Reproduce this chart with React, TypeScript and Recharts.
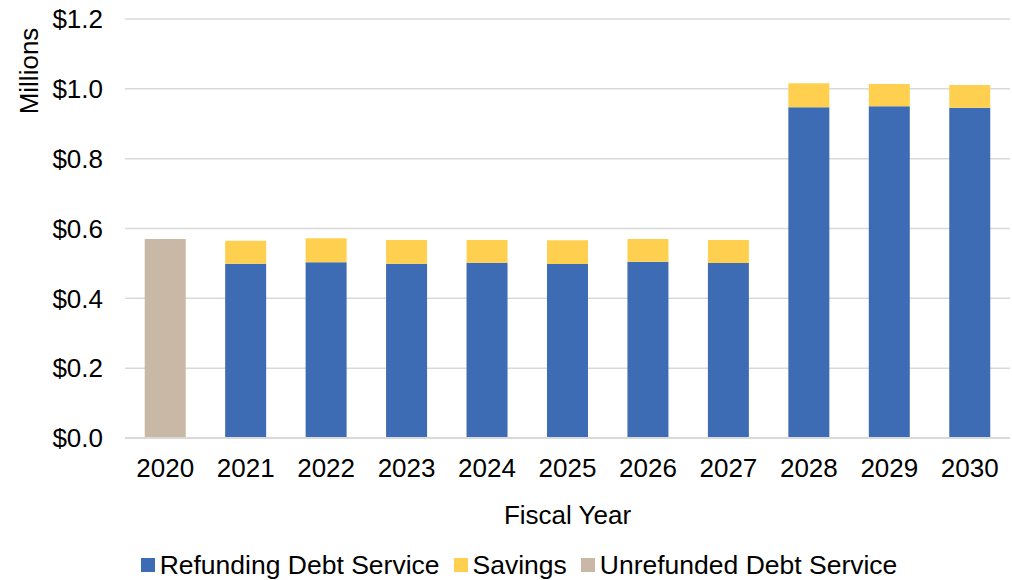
import { BarChart, Bar, XAxis, YAxis, CartesianGrid, Legend, Label } from 'recharts';

const years = ['2020', '2021', '2022', '2023', '2024', '2025', '2026', '2027', '2028', '2029', '2030'];
const refunding = [null, 0.499, 0.503, 0.499, 0.502, 0.498, 0.505, 0.501, 0.947, 0.95, 0.946];
const savings = [null, 0.066, 0.069, 0.068, 0.065, 0.068, 0.065, 0.066, 0.069, 0.064, 0.065];
const unrefunded = [0.57, null, null, null, null, null, null, null, null, null, null];
const yTicks = [0, 0.2, 0.4, 0.6, 0.8, 1.0, 1.2];

const FONT = '"Liberation Sans", Arial, sans-serif';
const FS = 26;

const data = years.map((year, i) => ({
  year,
  refunding: refunding[i],
  savings: savings[i],
  unrefunded: unrefunded[i],
}));

function LegendContent({ payload }: { payload?: any[] }) {
  if (!payload) return null;
  return (
    <div style={{ display: 'flex', justifyContent: 'center', alignItems: 'center', height: 38, paddingLeft: 28, fontFamily: FONT, fontSize: 26.5, color: '#000' }}>
      {payload.map((p, i) => (
        <div key={p.value} style={{ display: 'flex', alignItems: 'center', marginRight: i < payload.length - 1 ? 14 : 0 }}>
          <span style={{ display: 'inline-block', width: 14, height: 14, background: p.color, marginRight: 5 }} />
          <span>{p.value}</span>
        </div>
      ))}
    </div>
  );
}

function MillionsLabel({ viewBox }: { viewBox?: any }) {
  const x = viewBox.x + 29;
  const y = viewBox.y + 52;
  return (
    <text x={x} y={y} transform={`rotate(-90, ${x}, ${y})`} textAnchor="middle" dominantBaseline="central" fontFamily={FONT} fontSize={FS} fill="#000">
      Millions
    </text>
  );
}

export default function App() {
  return (
    <div style={{ position: 'absolute', left: 0, top: 0, background: '#fff' }}>
      <BarChart
        width={1012}
        height={580}
        data={data}
        margin={{ top: 19, right: 2, left: 0, bottom: 0 }}
        barCategoryGap="24.5%"
      >
        <CartesianGrid vertical={false} stroke="#d9d9d9" strokeWidth={1.5} />
        <XAxis
          dataKey="year"
          height={108}
          axisLine={{ stroke: '#d9d9d9', strokeWidth: 2 }}
          tickLine={false}
          tickMargin={15}
          tick={{ fontFamily: FONT, fontSize: FS, fill: '#000' }}
        >
          <Label value="Fiscal Year" position="insideBottom" offset={22} style={{ fontFamily: FONT, fontSize: FS, fill: '#000' }} />
        </XAxis>
        <YAxis
          width={125}
          domain={[0, 1.2]}
          ticks={yTicks}
          axisLine={false}
          tickLine={false}
          tickMargin={16}
          tickFormatter={(v: number) => `$${v.toFixed(1)}`}
          tick={{ fontFamily: FONT, fontSize: FS, fill: '#000' }}
          label={<MillionsLabel />}
        />
        <Legend
          verticalAlign="bottom"
          content={<LegendContent />}
          wrapperStyle={{ height: 34 }}
        />
        <Bar dataKey="refunding" name="Refunding Debt Service" stackId="a" fill="#3E6CB4" isAnimationActive={false} />
        <Bar dataKey="savings" name="Savings" stackId="a" fill="#FFD050" isAnimationActive={false} />
        <Bar dataKey="unrefunded" name="Unrefunded Debt Service" stackId="a" fill="#C8B8A5" isAnimationActive={false} />
      </BarChart>
    </div>
  );
}
